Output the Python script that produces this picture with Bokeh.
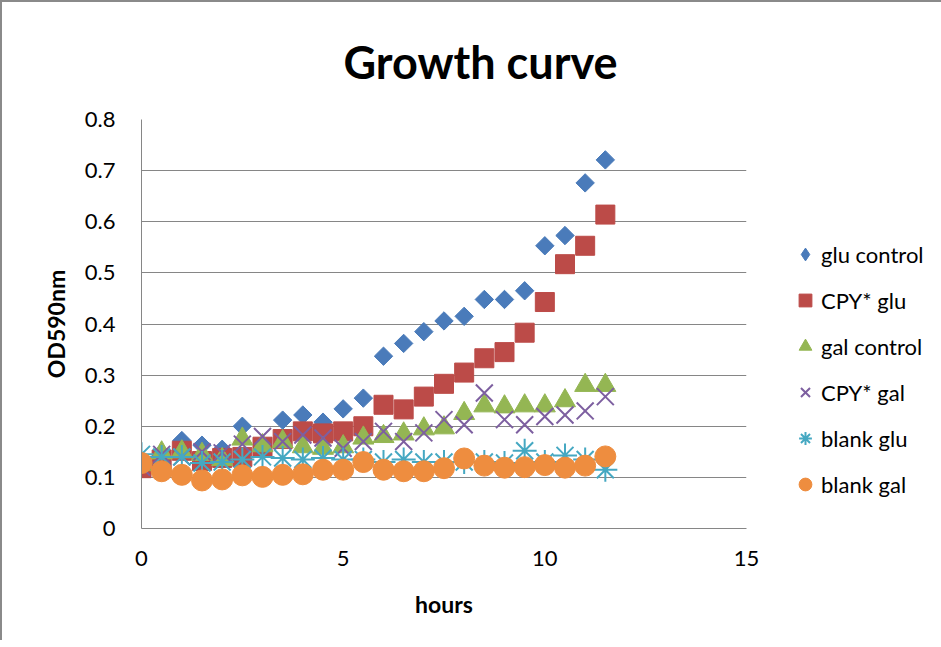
import math
from bokeh.plotting import figure
from bokeh.models import Range1d, FixedTicker, Legend, LegendItem, Title
from bokeh.embed import file_html
from bokeh.resources import INLINE

# ---- data ----
hours = [0, 0.5, 1, 1.5, 2, 2.5, 3, 3.5, 4, 4.5, 5, 5.5,
         6, 6.5, 7, 7.5, 8, 8.5, 9, 9.5, 10, 10.5, 11, 11.5]
glu_control = [0.130, 0.148, 0.172, 0.163, 0.155, 0.200, 0.160, 0.212, 0.222, 0.208, 0.234, 0.255,
               0.337, 0.362, 0.385, 0.406, 0.415, 0.448, 0.448, 0.465, 0.553, 0.573, 0.676, 0.721]
cpy_glu = [0.118, 0.135, 0.152, 0.132, 0.138, 0.140, 0.160, 0.175, 0.190, 0.186, 0.190, 0.200,
           0.242, 0.233, 0.258, 0.283, 0.305, 0.333, 0.345, 0.383, 0.443, 0.517, 0.553, 0.614]
gal_control = [0.125, 0.148, 0.150, 0.145, 0.135, 0.175, 0.162, 0.170, 0.160, 0.157, 0.160, 0.177,
               0.180, 0.185, 0.195, 0.197, 0.225, 0.240, 0.238, 0.240, 0.240, 0.250, 0.280, 0.280]
cpy_gal = [0.120, 0.145, 0.140, 0.150, 0.148, 0.165, 0.180, 0.170, 0.183, 0.177, 0.157, 0.170,
           0.190, 0.170, 0.187, 0.213, 0.203, 0.265, 0.213, 0.203, 0.219, 0.222, 0.230, 0.258]
blank_glu = [0.145, 0.140, 0.140, 0.128, 0.130, 0.135, 0.140, 0.138, 0.135, 0.138, 0.135, 0.135,
             0.130, 0.135, 0.130, 0.130, 0.130, 0.130, 0.128, 0.152, 0.130, 0.143, 0.135, 0.115]
blank_gal = [0.128, 0.112, 0.105, 0.094, 0.096, 0.104, 0.101, 0.105, 0.106, 0.115, 0.115, 0.130,
             0.115, 0.112, 0.112, 0.118, 0.137, 0.123, 0.119, 0.120, 0.124, 0.119, 0.123, 0.141]

series_names = ["glu control", "CPY* glu", "gal control", "CPY* gal", "blank glu", "blank gal"]
x_ticks = [0, 5, 10, 15]
y_ticks = [0, 0.1, 0.2, 0.3, 0.4, 0.5, 0.6, 0.7, 0.8]
y_tick_labels = ["0", "0.1", "0.2", "0.3", "0.4", "0.5", "0.6", "0.7", "0.8"]

FONT = "Lato"
GRAY = "#868686"

p = figure(frame_width=605, frame_height=409,
           min_border_left=139, min_border_right=187,
           min_border_top=116, min_border_bottom=112,
           x_range=Range1d(0, 15), y_range=Range1d(0, 0.8),
           output_backend="svg", toolbar_location=None)
p.styles = {"border-top": "2px solid #8a8a8a", "border-left": "2px solid #8a8a8a"}
p.outline_line_color = None
p.background_fill_color = "white"
p.border_fill_color = "white"

# axes
p.xaxis.ticker = FixedTicker(ticks=x_ticks)
p.yaxis.ticker = FixedTicker(ticks=y_ticks)
p.yaxis.major_label_overrides = {t: s for t, s in zip(y_ticks, y_tick_labels)}
for ax in (p.xaxis[0], p.yaxis[0]):
    ax.axis_line_color = GRAY
    ax.axis_line_width = 1
    ax.major_tick_line_color = None
    ax.minor_tick_line_color = None
    ax.major_tick_out = 0
    ax.major_tick_in = 0
    ax.major_label_text_font = FONT
    ax.major_label_text_font_size = "22px"
    ax.major_label_text_color = "black"
    ax.axis_label_text_font = FONT
    ax.axis_label_text_font_size = "23px"
    ax.axis_label_text_font_style = "bold"
    ax.axis_label_text_color = "black"
p.xaxis.axis_label = "hours"
p.yaxis.axis_label = "OD590nm"
p.yaxis.major_label_standoff = 26
p.xaxis.major_label_standoff = 22
p.yaxis.axis_label_standoff = 12
p.xaxis.axis_label_standoff = 21

p.xgrid.grid_line_color = None
p.ygrid.grid_line_color = GRAY
p.ygrid.grid_line_width = 1
p.ygrid.ticker = FixedTicker(ticks=y_ticks)

# series
blue, red, green, purple, teal, orange = "#4A7BBA", "#BC4B48", "#94B653", "#7D5FA0", "#45A8C2", "#EE8D3F"
r1 = p.scatter(hours, glu_control, marker="square", angle=math.pi / 4, size=13,
               fill_color=blue, line_color=blue)
# legend proxy (diamond shape) drawn beneath the first point, hidden by it
r1_legend = p.scatter(hours[:1], glu_control[:1], marker="diamond", size=13,
                      fill_color=blue, line_color=blue)
r2 = p.scatter(hours, cpy_glu, marker="square", size=19, fill_color=red, line_color=red)
r3 = p.scatter(hours, gal_control, marker="triangle", size=21, fill_color=green, line_color=green)
r4 = p.scatter(hours, cpy_gal, marker="x", size=24, line_color=purple, line_width=2)
r5 = p.scatter(hours, blank_glu, marker="asterisk", size=24, line_color=teal, line_width=2)
r6 = p.scatter(hours, blank_gal, marker="circle", size=21, fill_color=orange, line_color=orange)

legend = Legend(items=[LegendItem(label=n, renderers=[r]) for n, r in
                       zip(series_names, [r1_legend, r2, r3, r4, r5, r6])],
                location=(43, 28), orientation="vertical",
                glyph_width=32, glyph_height=32, spacing=14, padding=0, margin=0,
                label_standoff=0, label_height=32,
                label_text_font=FONT, label_text_font_size="22px", label_text_color="black",
                border_line_color=None, background_fill_alpha=0)
p.add_layout(legend, "right")

title = Title(text="Growth curve", align="left", offset=202, standoff=61,
              text_font=FONT, text_font_size="45px", text_font_style="bold",
              text_color="black")
p.add_layout(title, "above")

open("out.html", "w").write(file_html(p, INLINE))
